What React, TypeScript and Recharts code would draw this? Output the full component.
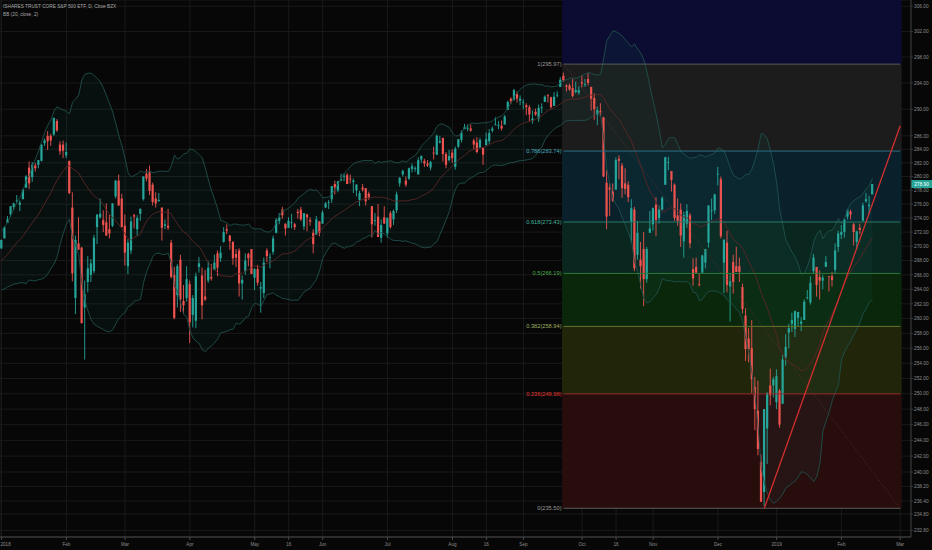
import React from 'react';
import { ComposedChart, Bar, Line, Area, XAxis, YAxis, CartesianGrid, ReferenceArea, ReferenceLine } from 'recharts';

// closes before the first visible bar, only used to warm up the bollinger bands
const priorCloses = [265.3, 264.3, 264.2, 265.0, 266.5, 267.3, 267.7, 267.6, 266.5, 268.9, 270.4, 269.5, 269.3, 269.8, 269.7, 269.4, 269.6, 270.1, 268.7];

const opens = [
  269.7, 271.1, 273.3, 274.5, 275.6, 276.5, 275.9, 276.7, 278.4, 281.3,
  279.9, 281.6, 281.7, 282.3, 284.9, 286.0, 286.0, 286.2, 288.2, 284.7,
  284.7, 283.1, 282.3, 275.5, 262.8, 270.4, 269.8, 261.5, 265.0, 266.0,
  266.5, 272.7, 274.1, 273.7, 273.4, 272.4, 272.9, 277.1, 279.4, 276.8,
  272.9, 267.2, 269.4, 274.4, 272.4, 274.6, 276.7, 280.4, 280.6, 278.8,
  276.8, 276.4, 275.5, 272.9, 272.9, 270.5, 266.0, 263.2, 268.1, 262.4,
  262.8, 264.7, 260.5, 259.7, 267.1, 265.9, 263.0, 265.2, 265.7, 266.7,
  269.0, 268.3, 270.6, 272.4, 271.5, 270.6, 268.9, 269.4, 264.8, 266.5,
  268.9, 269.6, 265.6, 266.8, 264.1, 263.5, 269.4, 268.4, 269.2, 271.9,
  273.6, 275.2, 273.2, 272.6, 273.3, 273.1, 274.9, 275.2, 272.8, 274.5,
  273.7, 271.9, 271.6, 273.5, 273.2, 275.5, 276.2, 276.7, 278.9, 278.0,
  279.4, 280.0, 280.2, 279.7, 279.2, 278.0, 276.6, 278.4, 278.3, 277.5,
  275.7, 273.6, 274.2, 271.2, 274.1, 271.8, 274.7, 273.8, 275.1, 279.0,
  280.3, 279.4, 279.7, 281.1, 281.1, 280.3, 282.5, 282.3, 281.9, 281.3,
  283.5, 283.2, 285.0, 285.7, 283.3, 282.4, 283.5, 281.4, 284.4, 285.4,
  287.0, 287.1, 287.1, 285.3, 285.0, 284.2, 284.2, 284.6, 285.2, 286.8,
  287.6, 287.5, 287.5, 287.7, 289.9, 291.6, 291.5, 292.3, 291.3, 291.1,
  290.6, 290.3, 288.3, 289.6, 288.6, 290.3, 291.1, 292.1, 291.8, 290.5,
  292.1, 293.4, 295.1, 293.6, 293.6, 293.2, 292.6, 292.5, 294.1, 293.8,
  294.6, 293.4, 291.7, 289.2, 289.7, 288.8, 279.1, 278.4, 277.8, 278.1,
  282.6, 281.6, 279.0, 278.8, 273.5, 275.2, 268.8, 268.1, 269.6, 265.4,
  271.9, 273.1, 275.9, 274.0, 275.2, 278.8, 282.0, 280.8, 278.8, 274.4,
  275.2, 270.7, 273.2, 274.4, 266.8, 267.1, 264.7, 266.3, 267.7, 270.5,
  275.1, 275.1, 280.4, 279.6, 267.7, 270.5, 264.4, 267.8, 267.2, 267.2,
  264.3, 260.4, 257.3, 256.0, 250.9, 247.8, 241.3, 237.5, 245.5, 251.1,
  251.1, 248.9, 250.4, 248.7, 254.8, 258.1, 259.3, 258.6, 260.1, 259.3,
  259.8, 262.8, 262.2, 266.5, 267.1, 265.7, 265.2, 267.1, 265.8, 265.8,
  266.7, 269.9, 271.6, 272.0, 274.2, 274.9, 273.1, 270.6, 272.6, 273.6,
  276.4, 275.7, 277.4,
];

const highs = [
  270.9, 272.8, 274.3, 275.7, 276.2, 277.3, 276.5, 278.1, 280.2, 282.2,
  282.1, 282.0, 282.4, 284.7, 285.6, 286.7, 286.3, 288.7, 288.5, 285.2,
  285.3, 285.0, 282.3, 277.7, 271.5, 274.1, 269.9, 265.2, 268.6, 268.2,
  271.6, 274.5, 276.8, 275.1, 276.1, 274.5, 276.1, 279.5, 280.3, 277.5,
  274.5, 271.0, 274.2, 274.6, 274.4, 275.4, 280.0, 281.1, 281.6, 279.1,
  277.7, 277.6, 275.5, 273.8, 275.3, 270.9, 267.1, 267.5, 268.8, 264.6,
  267.2, 265.2, 263.2, 266.3, 268.5, 267.0, 266.7, 267.9, 267.5, 268.8,
  269.4, 270.0, 272.7, 273.1, 271.6, 270.7, 269.6, 269.7, 265.9, 269.0,
  269.1, 269.6, 266.9, 267.4, 265.0, 268.4, 269.7, 269.0, 271.5, 274.0,
  274.7, 275.6, 273.2, 274.1, 274.6, 273.3, 275.3, 275.6, 274.7, 274.6,
  274.1, 272.4, 274.3, 273.6, 275.1, 276.3, 276.6, 278.6, 279.4, 279.3,
  280.4, 280.4, 280.5, 280.3, 279.7, 278.9, 277.9, 278.9, 278.3, 277.8,
  275.7, 274.7, 276.0, 273.8, 275.7, 274.1, 275.0, 275.2, 277.8, 279.9,
  281.0, 280.0, 281.3, 281.9, 281.5, 282.8, 283.1, 282.6, 282.4, 282.3,
  284.4, 286.2, 286.0, 285.7, 283.6, 283.9, 284.0, 284.4, 285.5, 286.8,
  287.8, 287.7, 287.7, 285.6, 285.8, 285.7, 284.2, 286.5, 287.0, 287.4,
  288.8, 288.2, 288.3, 289.1, 291.3, 291.8, 293.1, 292.7, 292.1, 291.5,
  290.9, 290.6, 289.8, 290.1, 290.7, 290.9, 292.1, 292.3, 291.9, 292.6,
  292.7, 294.9, 295.6, 293.8, 293.9, 294.6, 294.2, 293.5, 295.2, 294.6,
  295.5, 293.4, 292.4, 290.4, 290.9, 288.8, 280.9, 279.0, 279.0, 282.8,
  283.1, 282.0, 281.2, 279.3, 276.7, 275.6, 273.6, 270.6, 272.0, 269.9,
  275.0, 275.5, 277.0, 275.8, 277.1, 282.9, 282.9, 280.8, 279.0, 276.8,
  276.1, 274.9, 276.0, 274.7, 268.3, 268.4, 266.1, 268.8, 269.6, 275.8,
  276.8, 277.5, 281.4, 280.0, 271.0, 272.2, 266.1, 268.8, 269.9, 268.4,
  264.8, 261.4, 258.7, 259.8, 252.2, 251.7, 242.2, 248.0, 250.2, 253.3,
  252.2, 253.2, 250.6, 255.1, 257.9, 259.3, 260.8, 261.1, 260.9, 260.2,
  262.6, 263.9, 265.8, 268.9, 267.1, 266.6, 266.0, 268.6, 265.8, 266.4,
  270.4, 272.2, 273.0, 273.9, 275.3, 275.2, 273.3, 272.2, 273.2, 276.2,
  277.6, 277.2, 278.9,
];

const lows = [
  269.6, 271.1, 273.3, 274.2, 275.1, 276.2, 275.0, 276.7, 278.3, 278.2,
  279.2, 280.7, 281.2, 282.2, 284.5, 283.9, 284.5, 286.0, 286.6, 283.2,
  282.7, 282.7, 277.4, 265.1, 260.6, 269.5, 259.3, 254.5, 263.6, 265.0,
  266.2, 270.3, 273.9, 272.0, 271.5, 271.1, 272.7, 276.8, 275.8, 272.7,
  267.3, 266.1, 268.9, 272.5, 271.5, 273.6, 276.5, 279.3, 277.3, 275.8,
  275.5, 276.4, 270.8, 272.4, 272.3, 265.5, 259.9, 261.5, 260.9, 260.6,
  262.3, 256.7, 258.8, 258.7, 266.3, 259.9, 262.4, 264.9, 265.2, 266.7,
  265.8, 267.8, 270.5, 271.7, 269.5, 267.4, 267.1, 263.0, 262.6, 266.0,
  267.2, 266.1, 263.9, 264.5, 260.8, 262.8, 267.8, 266.9, 268.8, 271.8,
  273.1, 273.9, 271.5, 272.6, 272.5, 272.3, 273.9, 273.6, 272.3, 272.1,
  272.9, 269.0, 271.6, 271.4, 273.2, 275.4, 275.3, 276.2, 277.4, 277.7,
  279.4, 279.3, 278.9, 279.0, 277.6, 277.1, 275.7, 277.8, 275.8, 276.6,
  271.2, 272.9, 271.3, 270.5, 273.2, 271.2, 272.5, 273.0, 274.7, 278.5,
  280.0, 278.5, 279.5, 280.6, 280.7, 280.3, 282.0, 281.4, 281.4, 280.9,
  282.5, 283.2, 284.9, 282.2, 281.2, 282.2, 282.0, 281.0, 284.2, 285.0,
  287.0, 286.7, 286.6, 284.0, 283.4, 284.1, 281.7, 284.6, 284.8, 286.5,
  287.6, 287.0, 286.8, 287.7, 289.9, 290.8, 291.3, 291.0, 290.6, 290.0,
  289.1, 288.2, 287.8, 289.0, 288.1, 289.4, 291.1, 291.0, 290.1, 290.5,
  291.8, 293.4, 294.2, 292.7, 292.8, 291.8, 292.4, 292.2, 293.3, 293.4,
  293.6, 289.8, 288.4, 287.6, 288.9, 279.9, 272.4, 274.3, 276.3, 278.1,
  279.6, 276.9, 277.4, 276.3, 270.5, 266.5, 268.1, 264.1, 261.7, 264.9,
  271.9, 272.2, 271.4, 273.2, 275.1, 278.8, 280.9, 277.8, 273.6, 272.9,
  269.9, 268.4, 272.6, 269.7, 264.5, 266.3, 264.4, 266.3, 266.9, 269.8,
  273.7, 274.6, 278.7, 271.1, 263.5, 263.6, 259.6, 263.4, 266.4, 265.0,
  260.7, 254.3, 254.1, 250.1, 245.3, 242.1, 236.3, 235.8, 241.0, 248.5,
  249.5, 248.0, 245.6, 248.7, 253.7, 256.0, 258.2, 257.5, 259.0, 258.3,
  259.8, 262.6, 261.9, 266.1, 263.0, 262.6, 264.0, 267.1, 263.7, 264.4,
  266.2, 269.2, 271.0, 271.2, 273.8, 273.8, 270.1, 269.5, 271.7, 273.6,
  276.2, 274.5, 277.4,
];

const closes = [
  270.9, 272.7, 273.8, 275.7, 276.1, 276.5, 276.2, 278.1, 280.0, 279.0,
  281.7, 281.2, 282.4, 284.7, 285.3, 285.2, 285.3, 288.7, 286.8, 283.7,
  283.8, 283.6, 277.6, 266.2, 270.9, 269.5, 259.4, 263.3, 266.9, 267.6,
  271.2, 274.5, 274.6, 273.0, 271.5, 271.8, 276.1, 279.4, 275.8, 272.7,
  269.1, 270.5, 273.5, 274.2, 274.0, 275.3, 280.0, 279.7, 277.9, 276.3,
  276.1, 276.6, 272.6, 273.1, 272.6, 265.7, 260.1, 267.2, 262.6, 261.8,
  265.4, 259.5, 262.8, 265.8, 267.6, 261.8, 262.6, 267.0, 265.5, 267.7,
  267.0, 269.1, 272.0, 272.2, 270.7, 268.3, 268.4, 264.8, 265.3, 268.0,
  268.3, 266.1, 266.8, 264.9, 264.3, 267.7, 268.6, 268.5, 271.1, 273.7,
  274.1, 274.4, 272.5, 273.6, 273.4, 272.7, 274.7, 273.8, 274.7, 274.1,
  273.5, 270.3, 273.8, 271.9, 274.8, 276.1, 276.3, 278.6, 278.4, 279.3,
  279.6, 280.1, 278.9, 279.6, 279.4, 278.8, 277.6, 278.1, 276.4, 276.9,
  273.1, 273.7, 271.3, 273.0, 273.2, 274.0, 272.7, 275.0, 277.4, 279.8,
  280.8, 278.8, 281.2, 281.5, 281.2, 282.4, 283.0, 281.9, 281.6, 282.1,
  283.4, 286.0, 285.2, 283.3, 281.7, 283.0, 282.7, 284.1, 285.5, 286.5,
  287.3, 287.2, 286.8, 284.7, 283.6, 285.4, 283.2, 285.5, 286.4, 287.1,
  287.7, 287.6, 287.1, 288.9, 291.1, 291.2, 292.9, 291.6, 291.6, 291.1,
  290.3, 289.2, 288.6, 289.2, 290.2, 290.3, 291.9, 292.0, 290.3, 291.9,
  292.2, 294.5, 294.4, 293.4, 293.0, 292.0, 292.9, 292.9, 293.9, 293.8,
  294.0, 291.6, 290.0, 289.9, 289.5, 280.0, 274.2, 278.1, 276.5, 282.4,
  282.3, 278.3, 278.2, 277.0, 275.4, 266.9, 271.9, 267.2, 265.4, 269.6,
  272.5, 275.4, 273.7, 275.2, 276.9, 282.8, 282.1, 279.5, 274.0, 273.6,
  271.5, 274.4, 275.0, 270.4, 265.5, 266.3, 264.6, 268.7, 269.6, 275.8,
  275.1, 277.4, 280.4, 271.4, 270.9, 264.6, 265.1, 265.0, 266.4, 266.4,
  261.3, 255.9, 255.9, 251.9, 248.0, 242.9, 236.3, 248.0, 250.1, 249.8,
  251.9, 252.3, 246.0, 254.5, 256.2, 258.7, 259.8, 261.0, 260.9, 259.6,
  262.3, 262.9, 264.9, 268.4, 264.6, 265.2, 265.6, 267.8, 265.7, 265.3,
  269.4, 271.8, 272.0, 273.8, 275.1, 274.5, 272.0, 272.1, 272.3, 275.8,
  276.7, 275.9, 278.9,
];

const futureBars = 12;

// bar index of each date label on the time axis
const timeTickIdx = [0, 21, 40, 61, 82, 93, 104, 125, 146, 157, 169, 188, 199, 211, 232, 251, 272, 291];
const timeTickLabels = ['2018', 'Feb', 'Mar', 'Apr', 'May', '16', 'Jun', 'Jul', 'Aug', '16', 'Sep', 'Oct', '16', 'Nov', 'Dec', '2019', 'Feb', 'Mar'];

const priceTicks = [
  306, 302, 298, 294, 290, 286, 284, 282, 280, 278, 276, 274, 272, 270, 268, 266, 264, 262, 260,
  258, 256, 254, 252, 250, 248, 246, 244, 242, 240, 238.2, 236.4, 234.8, 232.8,
];

// fibonacci retracement drawn from the Sep 21 high
const fibRatios = ['1', '0.786', '0.618', '0.5', '0.382', '0.236', '0'];
const fibValues = [295.97, 283.74, 273.43, 266.19, 258.94, 249.98, 235.5];
const fibDrawn = [296.9, 283.74, 273.43, 266.19, 258.94, 249.98, 235.5];
const fibFrom = 182;
const fibTo = 291;

// trendline from the Dec 26 low
const trendStart = { i: 247, p: 235.5 };
const trendEnd = { i: 291, p: 287.5 };

const UP = '#26a69a';
const DOWN = '#ef5350';
const Y_MIN = 232;
const Y_MAX = 307;

const zoneColors = ['#0c0c32', '#1c1c1c', '#0a212c', '#0a271f', '#0a270c', '#21260b', '#280d0d'];
const fibLineColors = ['#5c5c5c', '#2a6f86', '#287a6a', '#2e7a38', '#667628', '#9a2a2a', '#5c5c5c'];
const fibTextColors = ['#9a9a9a', '#4aaec0', '#43b49e', '#4caf50', '#9db060', '#e53935', '#9a9a9a'];

const allCloses = [...priorCloses, ...closes];
const rows: any[] = [];
for (let i = 0; i < closes.length + futureBars; i++) {
  if (i < closes.length) {
    const win = allCloses.slice(i, i + 20);
    const mean = win.reduce((a, b) => a + b, 0) / win.length;
    const sd = Math.sqrt(win.reduce((a, b) => a + (b - mean) ** 2, 0) / win.length);
    rows.push({
      i,
      o: opens[i], h: highs[i], l: lows[i], c: closes[i],
      hl: [lows[i], highs[i]],
      bbM: mean, bbU: mean + 2 * sd, bbL: mean - 2 * sd,
      bb: [mean - 2 * sd, mean + 2 * sd],
    });
  } else {
    rows.push({ i, o: null, h: null, l: null, c: null, hl: null, bbM: null, bbU: null, bbL: null, bb: null });
  }
}

const lastClose = closes[closes.length - 1];

const Candle = (props: any) => {
  const { x, y, width, height, payload } = props;
  if (!payload || payload.o == null) return null;
  const { o, h, l, c } = payload;
  const color = c >= o ? UP : DOWN;
  const top = Math.min(y, y + height);
  const bot = Math.max(y, y + height);
  const lh = Math.log(h);
  const ll = Math.log(l);
  const py = (p: number) => (lh === ll ? top : top + ((bot - top) * (lh - Math.log(p))) / (lh - ll));
  const cx = x + width / 2;
  const bTop = py(Math.max(o, c));
  const bBot = py(Math.min(o, c));
  return (
    <g>
      <line x1={cx} x2={cx} y1={top} y2={bot} stroke={color} strokeWidth={0.9} />
      <rect x={cx - 1.1} y={bTop} width={2.2} height={Math.max(bBot - bTop, 0.8)} fill={color} />
    </g>
  );
};

// first date label sits on the left edge, so it is anchored at its start
const TimeTick = (props: any) => {
  const { x, y, payload } = props;
  const k = timeTickIdx.indexOf(payload.value);
  const first = k === 0;
  return (
    <text x={first ? 0.5 : x} y={y + 4} textAnchor={first ? 'start' : 'middle'} fontSize={4.6} fill="#8c8c8c">
      {timeTickLabels[k]}
    </text>
  );
};

const fibLabel = (k: number) => (props: any) => {
  const vb = props.viewBox;
  if (!vb) return null;
  return (
    <text x={vb.x - 2} y={vb.y} textAnchor="end" dominantBaseline="central" fontSize={5.7} fill={fibTextColors[k]}>
      {`${fibRatios[k]}(${fibValues[k].toFixed(2)})`}
    </text>
  );
};

const priceTag = (props: any) => {
  const vb = props.viewBox;
  if (!vb) return null;
  const x = vb.x + vb.width;
  return (
    <g>
      <rect x={x} y={vb.y - 4} width={21} height={8} fill={UP} />
      <text x={x + 10.5} y={vb.y} textAnchor="middle" dominantBaseline="central" fontSize={4.8} fill="#ffffff">
        {lastClose.toFixed(2)}
      </text>
    </g>
  );
};

const zoneBounds = [Y_MAX, ...fibDrawn];

export default function App() {
  return (
    <div style={{ position: 'absolute', left: 0, top: 0, width: 932, height: 550, background: '#070707', overflow: 'hidden', fontFamily: '"Liberation Sans", Arial, sans-serif' }}>
      <ComposedChart width={932} height={550} data={rows} margin={{ top: 0, right: 0, bottom: 0, left: 0 }}>
        {zoneColors.map((col, k) => (
          <ReferenceArea key={'z' + k} x1={fibFrom} x2={fibTo} y1={zoneBounds[k + 1]} y2={zoneBounds[k]} fill={col} fillOpacity={1} stroke="none" />
        ))}
        <CartesianGrid stroke="#1a1a1a" strokeWidth={1} />
        <XAxis
          dataKey="i"
          type="category"
          ticks={timeTickIdx}
          interval={0}
          height={13}
          tickSize={3}
          tick={<TimeTick />}
          axisLine={{ stroke: '#4a4a4a' }}
          tickLine={{ stroke: '#4a4a4a' }}
        />
        <YAxis
          orientation="right"
          scale="log"
          domain={[Y_MIN, Y_MAX]}
          allowDataOverflow
          ticks={priceTicks}
          interval={0}
          width={21}
          tickFormatter={(v: number) => v.toFixed(2)}
          tickSize={2}
          tickMargin={1}
          tick={{ fill: '#8c8c8c', fontSize: 4.8 }}
          axisLine={{ stroke: '#3a3a3a' }}
          tickLine={{ stroke: '#3a3a3a' }}
        />
        <Area dataKey="bb" type="linear" stroke="none" fill="#1d7f77" fillOpacity={0.08} activeDot={false} isAnimationActive={false} />
        <Line dataKey="bbU" type="linear" stroke="#1f504c" strokeWidth={0.9} dot={false} activeDot={false} isAnimationActive={false} />
        <Line dataKey="bbL" type="linear" stroke="#1f504c" strokeWidth={0.9} dot={false} activeDot={false} isAnimationActive={false} />
        <Line dataKey="bbM" type="linear" stroke="#5a2626" strokeWidth={0.9} dot={false} activeDot={false} isAnimationActive={false} />
        <Bar dataKey="hl" shape={<Candle />} activeBar={false} isAnimationActive={false} />
        {fibDrawn.map((p, k) => (
          <ReferenceLine
            key={'f' + k}
            segment={[{ x: fibFrom, y: p }, { x: fibTo, y: p }]}
            stroke={fibLineColors[k]}
            strokeWidth={1}
            label={fibLabel(k)}
          />
        ))}
        <ReferenceLine
          segment={[{ x: fibFrom, y: fibDrawn[0] }, { x: fibTo, y: fibDrawn[6] }]}
          stroke="#5e3333"
          strokeWidth={0.8}
          strokeDasharray="1 2"
        />
        <ReferenceLine
          segment={[{ x: trendStart.i, y: trendStart.p }, { x: trendEnd.i, y: trendEnd.p }]}
          stroke="#d32f2f"
          strokeWidth={1.3}
        />
        <ReferenceLine y={lastClose} stroke="none" label={priceTag} />
      </ComposedChart>
      <div style={{ position: 'absolute', left: 3, top: 4, fontSize: 4.75, lineHeight: '6px', color: '#a6a6a6', whiteSpace: 'nowrap' }}>
        ISHARES TRUST CORE S&amp;P 500 ETF, D, Cboe BZX
      </div>
      <div style={{ position: 'absolute', left: 3, top: 12, fontSize: 4.75, lineHeight: '6px', color: '#a6a6a6', whiteSpace: 'nowrap' }}>
        BB (20, close, 2)
      </div>
    </div>
  );
}
